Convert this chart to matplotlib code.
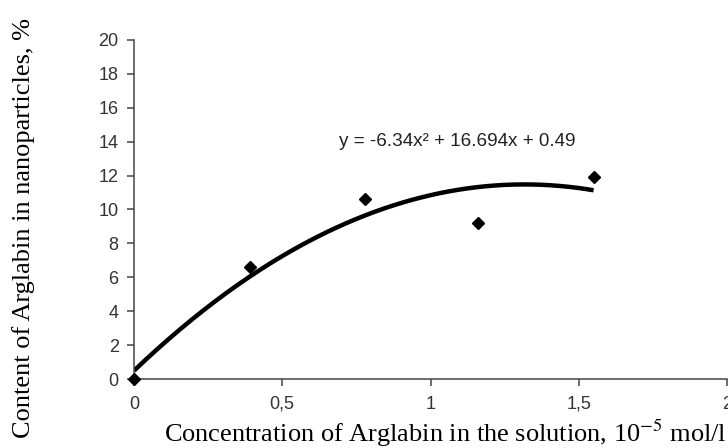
import numpy as np
import matplotlib.pyplot as plt

# measured points
conc = [0.0, 0.39, 0.78, 1.16, 1.55]
content = [0.0, 6.6, 10.6, 9.2, 11.9]
# trendline coefficients shown on the chart (a*x^2 + b*x + c)
coef = [-6.34, 16.694, 0.49]
xticks = [0, 0.5, 1, 1.5, 2]
xtick_labels = ['0', '0,5', '1', '1,5', '2']
yticks = list(range(0, 21, 2))

plt.rcParams['mathtext.fontset'] = 'stix'

fig = plt.figure(figsize=(7.28, 4.48), dpi=100)
ax = fig.add_axes([134 / 728, 69 / 448, 593 / 728, 339 / 448])

xs = np.linspace(0, conc[-1], 200)
ax.plot(xs, np.polyval(coef, xs), color='black', lw=3.2, solid_capstyle='butt', zorder=2)
ax.plot(conc, content, 'D', color='black', ms=6, zorder=3, clip_on=False)

ax.set_xlim(0, 2)
ax.set_ylim(0, 20)
ax.set_xticks(xticks)
ax.set_xticklabels(xtick_labels)
ax.set_yticks(yticks)

for s in ['top', 'right']:
    ax.spines[s].set_visible(False)
for s in ['left', 'bottom']:
    ax.spines[s].set_color('#444444')
    ax.spines[s].set_linewidth(1.1)

ax.tick_params(direction='out', length=5, width=1.1, color='#444444',
               labelcolor='#333333', labelsize=13)
for lab in ax.get_xticklabels() + ax.get_yticklabels():
    lab.set_family('Liberation Sans')
ax.tick_params(axis='x', pad=7)
ax.tick_params(axis='y', pad=6)

eq = 'y = %gx\u00b2 + %gx + %g' % tuple(coef)
fig.text(457 / 728, (448 - 142) / 448, eq, ha='center', va='center',
         fontsize=13.6, family='Liberation Sans', color='#222222')

fig.text(727 / 728, (448 - 433) / 448,
         'Concentration of Arglabin in the solution, 10$^{-5}$ mol/l',
         ha='right', va='center', fontsize=19, family='Liberation Serif')
fig.text(24 / 728, (448 - 228) / 448,
         'Content of Arglabin in nanoparticles, %',
         ha='center', va='center', rotation=90, fontsize=19,
         family='Liberation Serif')

fig.savefig('out.png', dpi=100)
